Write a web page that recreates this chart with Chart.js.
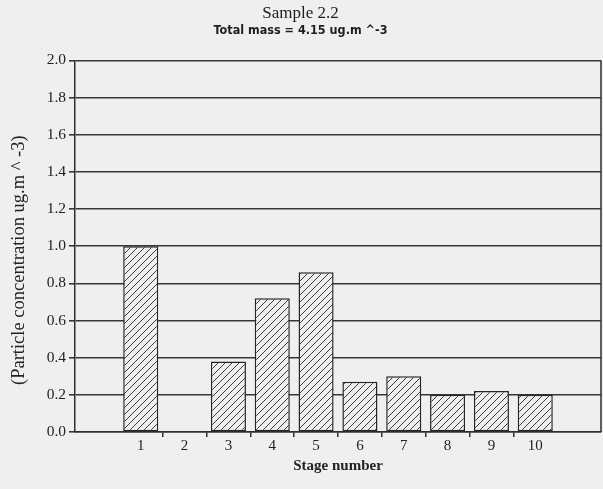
<!DOCTYPE html>
<html>
<head>
<meta charset="utf-8">
<title>Sample 2.2</title>
<script src="https://cdn.jsdelivr.net/npm/chart.js@4/dist/chart.umd.min.js"></script>
<style>
  html, body { margin: 0; padding: 0; background: #efefef; }
  #wrap { width: 603px; height: 489px; }
</style>
</head>
<body>
<div id="wrap"><canvas id="chart" width="603" height="489"></canvas></div>
<script>
// Impactor stages; the empty slots pad one category either side of the axis
const stageLabels = ['', '1', '2', '3', '4', '5', '6', '7', '8', '9', '10', ''];
// Particle concentration per stage (ug.m^-3); stage 2 has no deposit
const concentration = [null, 1.00, null, 0.38, 0.72, 0.86, 0.27, 0.30, 0.20, 0.22, 0.20, null];
const yMin = 0;
const yMax = 2.0;
const yStep = 0.2;
const chartTitle = 'Sample 2.2';
const chartSubtitle = 'Total mass = 4.15 ug.m ^-3';
const xTitle = 'Stage number';
const yTitle = '(Particle concentration ug.m ^ -3)';

const paper = '#efefef';
const ink = '#2e2e2e';
const serif = "'Liberation Serif', 'Times New Roman', serif";
const narrow = "'DejaVu Sans Condensed', 'Liberation Sans Narrow', 'Arial Narrow', sans-serif";

// Diagonal "/" hatch used to fill the bars
function makeHatch() {
  const size = 7;
  const c = document.createElement('canvas');
  c.width = size; c.height = size;
  const g = c.getContext('2d');
  g.fillStyle = paper;
  g.fillRect(0, 0, size, size);
  g.strokeStyle = '#3c3c3c';
  g.lineWidth = 1;
  g.beginPath();
  g.moveTo(-1, size + 1); g.lineTo(size + 1, -1);
  g.moveTo(-1, 1); g.lineTo(1, -1);
  g.moveTo(size - 1, size + 1); g.lineTo(size + 1, size - 1);
  g.stroke();
  return g.createPattern(c, 'repeat');
}

// Closes the plot frame on the right-hand side
const frameRight = {
  id: 'frameRight',
  afterDatasetsDraw(chart) {
    const { ctx, chartArea } = chart;
    ctx.save();
    ctx.strokeStyle = ink;
    ctx.lineWidth = 1.5;
    ctx.beginPath();
    ctx.moveTo(chartArea.right, chartArea.top);
    ctx.lineTo(chartArea.right, chartArea.bottom);
    ctx.stroke();
    ctx.restore();
  }
};

// Vertical axis caption, set a little below the middle of the plot
const yCaption = {
  id: 'yCaption',
  afterDraw(chart) {
    const { ctx, chartArea } = chart;
    ctx.save();
    ctx.fillStyle = '#222';
    ctx.font = "18.5px " + serif;
    ctx.textAlign = 'center';
    ctx.textBaseline = 'middle';
    ctx.translate(19, (chartArea.top + chartArea.bottom) / 2 + 14);
    ctx.rotate(-Math.PI / 2);
    ctx.fillText(yTitle, 0, 0);
    ctx.restore();
  }
};

const canvas = document.getElementById('chart');
new Chart(canvas, {
  type: 'bar',
  data: {
    labels: stageLabels,
    datasets: [{
      data: concentration,
      backgroundColor: makeHatch(),
      borderColor: '#262626',
      borderWidth: 1.5,
      borderSkipped: false,
      barPercentage: 0.8,
      categoryPercentage: 1.0
    }]
  },
  plugins: [frameRight, yCaption],
  options: {
    responsive: false,
    animation: false,
    devicePixelRatio: 1,
    layout: { padding: { left: 0, right: 2, top: 0, bottom: 0 } },
    plugins: {
      legend: { display: false },
      tooltip: { enabled: false },
      title: {
        display: true,
        text: chartTitle,
        color: '#1e1e1e',
        font: { family: serif, size: 17, weight: 'normal' },
        padding: { top: 3, bottom: 0 }
      },
      subtitle: {
        display: true,
        text: chartSubtitle,
        color: '#1e1e1e',
        font: { family: narrow, size: 12.5, weight: 'bold' },
        padding: { top: 0, bottom: 22 }
      }
    },
    scales: {
      x: {
        offset: true,
        afterFit(scale) { scale.height = 57; },
        grid: {
          offset: true,
          drawOnChartArea: false,
          drawTicks: true,
          tickLength: 5,
          lineWidth: 1.5,
          color: (ctx) => (ctx.index >= 2 && ctx.index <= 10 ? ink : 'rgba(0,0,0,0)')
        },
        border: { display: true, color: ink, width: 1.5 },
        ticks: {
          color: '#222',
          padding: 0,
          maxRotation: 0,
          autoSkip: false,
          font: { family: serif, size: 15 }
        },
        title: {
          display: true,
          text: xTitle,
          color: '#222',
          font: { family: serif, size: 15, weight: 'bold' },
          padding: { top: 0, bottom: 14 }
        }
      },
      y: {
        min: yMin,
        max: yMax,
        afterFit(scale) { scale.width = 75; },
        grid: {
          color: '#363636',
          lineWidth: 1.6,
          drawTicks: true,
          tickLength: 6
        },
        border: { display: true, color: ink, width: 1.5 },
        ticks: {
          stepSize: yStep,
          color: '#222',
          padding: 3,
          font: { family: serif, size: 15.5 },
          callback: (v) => Number(v).toFixed(1)
        },
        title: { display: false }
      }
    }
  }
});
</script>
</body>
</html>
